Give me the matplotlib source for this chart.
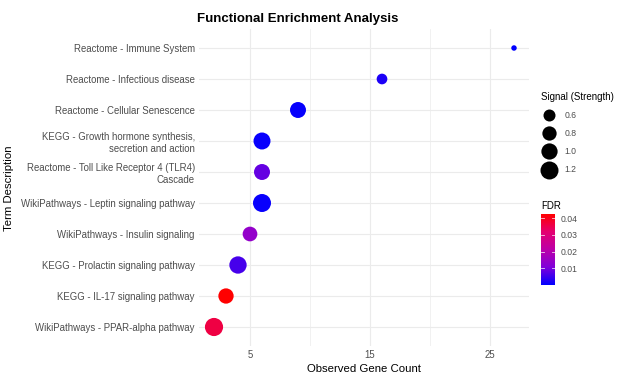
import matplotlib.pyplot as plt
import numpy as np
from matplotlib.colors import LinearSegmentedColormap, Normalize

plt.rcParams['font.family'] = ['Liberation Sans', 'DejaVu Sans']

# enrichment terms, top to bottom
terms = [
    "Reactome - Immune System",
    "Reactome - Infectious disease",
    "Reactome - Cellular Senescence",
    "KEGG - Growth hormone synthesis,\nsecretion and action",
    "Reactome - Toll Like Receptor 4 (TLR4)\nCascade",
    "WikiPathways - Leptin signaling pathway",
    "WikiPathways - Insulin signaling",
    "KEGG - Prolactin signaling pathway",
    "KEGG - IL-17 signaling pathway",
    "WikiPathways - PPAR-alpha pathway",
]
gene_count = [27, 16, 9, 6, 6, 6, 5, 4, 3, 2]
signal = [0.22, 0.50, 0.97, 1.08, 0.97, 1.20, 0.84, 1.12, 0.90, 1.22]
fdr = [0.0001, 0.0025, 0.0006, 0.0008, 0.0085, 0.0008, 0.014, 0.006, 0.0424, 0.036]

size_breaks = [0.6, 0.8, 1.0, 1.2]
fdr_breaks = [0.01, 0.02, 0.03, 0.04]

# blue -> red gradient through purple
cmap = LinearSegmentedColormap.from_list(
    "fdr", ["#0000FF", "#8000DA", "#BC00A8", "#E40070", "#FF0000"])
norm = Normalize(vmin=min(fdr), vmax=max(fdr))


def marker_area(s):
    # area grows linearly with signal; returned in points^2 (dpi 100)
    d_px = np.sqrt(144 + 300 * (np.asarray(s) - 0.6))
    return (d_px * 0.72) ** 2


fig = plt.figure(figsize=(6.24, 3.76), dpi=100)
ax = fig.add_axes([199 / 624, 1 - 345.6 / 376, 330 / 624, 316.2 / 376])

ypos = np.arange(len(terms))[::-1]
ax.scatter(gene_count, ypos, s=marker_area(signal), c=fdr, cmap=cmap, norm=norm,
           linewidths=0, zorder=3)

ax.set_xlim(0.75, 28.25)
ax.set_ylim(-0.6, len(terms) - 0.4)
ax.set_xticks([5, 15, 25])
ax.set_xticks([10, 20], minor=True)
ax.set_yticks(ypos)
ax.set_yticklabels(terms, ha='right', multialignment='right')
ax.tick_params(axis='both', which='both', length=0, labelsize=6.9,
               labelcolor='#4D4D4D', pad=3)
ax.grid(which='major', color='#EBEBEB', linewidth=0.8, zorder=0)
ax.grid(which='minor', axis='x', color='#EBEBEB', linewidth=0.5, zorder=0)
for sp in ax.spines.values():
    sp.set_visible(False)
ax.set_xlabel("Observed Gene Count", fontsize=8.2, labelpad=3)
ax.set_ylabel("Term Description", fontsize=8.2)
ax.yaxis.set_label_coords(14 / 624, 0.5, transform=fig.transFigure)

fig.text(298 / 624, 1 - 19 / 376, "Functional Enrichment Analysis",
         ha='center', va='center', fontsize=9.5, fontweight='bold')

# size legend
handles = [ax.scatter([], [], s=marker_area(b), color='black', linewidths=0)
           for b in size_breaks]
leg = fig.legend(handles, [f"{b:.1f}" for b in size_breaks],
                 title="Signal (Strength)", loc='upper left',
                 bbox_to_anchor=(537 / 624, 1 - 88 / 376), frameon=False,
                 fontsize=6.2, title_fontsize=7, labelspacing=1.05,
                 handletextpad=0.9, borderpad=0, handlelength=1.8)
leg._legend_box.align = 'left'
leg._legend_box.sep = 6
for t in leg.get_texts():
    t.set_color('#4D4D4D')

# FDR colour bar
cax = fig.add_axes([541 / 624, 1 - 285 / 376, 14 / 624, 71 / 376])
cb = fig.colorbar(plt.cm.ScalarMappable(norm=norm, cmap=cmap), cax=cax,
                  ticks=fdr_breaks)
cb.outline.set_visible(False)
cax.tick_params(length=0, labelsize=6.2, labelcolor='#4D4D4D', pad=4)
for b in fdr_breaks:
    cax.plot([0, 0.2], [b, b], color='white', lw=0.6, alpha=0.8,
             transform=cax.get_yaxis_transform())
    cax.plot([0.8, 1], [b, b], color='white', lw=0.6, alpha=0.8,
             transform=cax.get_yaxis_transform())
cax.set_yticklabels([f"{b:.2f}" for b in fdr_breaks])
fig.text(541 / 624, 1 - 206 / 376, "FDR", fontsize=7, va='center', ha='left')

fig.savefig("out.png", dpi=100, facecolor='white')
